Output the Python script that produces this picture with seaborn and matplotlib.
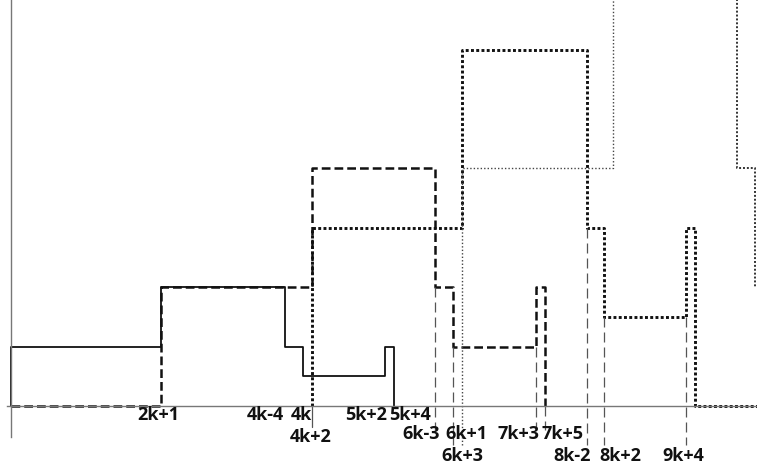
import matplotlib
matplotlib.use('Agg')
import matplotlib.pyplot as plt
import seaborn as sns
import pandas as pd

# breakpoints (x) and levels (y) of each step curve
solid_x = [11, 11, 161, 285, 302.5, 385, 394]
solid_y = [0, 2, 4, 2, 1, 2, 0]

dashed_x = [11, 161, 312, 435, 453, 536, 545]
dashed_y = [0, 4, 8, 4, 2, 4, 0]

dotted_x = [312, 312, 462, 586.5, 604, 686, 695, 757]
dotted_y = [0, 6, 12, 6, 3, 6, 0, 0]

thin_a_x = [462, 462, 613, 613]
thin_a_y = [-1.3, 8, 8, 14]
thin_b_x = [736.5, 736.5, 754.5, 754.5]
thin_b_y = [14, 8, 8, 4]

# drop lines below the axis: x, top, bottom
drop_x = [435, 453, 536, 545, 586.5, 604, 686]
drop_top = [4, 2, 2, 0, 6, 3, 3]
drop_bottom = [-0.8, -1.3, -0.8, -0.8, -1.3, -1.3, -1.3]

tick_labels = ['2k+1', '4k-4', '4k', '4k+2', '5k+2', '5k+4', '6k-3', '6k+1',
               '6k+3', '7k+3', '7k+5', '8k-2', '8k+2', '9k+4']
label_x = [158, 265, 301, 311, 366, 410, 421, 466, 462, 518, 563, 572, 620, 683]
label_y = [-0.3, -0.3, -0.3, -1.04, -0.3, -0.3, -0.93, -0.93, -1.68, -0.93, -0.93, -1.68, -1.68, -1.68]

sns.set_style('white')
plt.rcParams['font.family'] = ['Open Sans', 'DejaVu Sans']

fig = plt.figure(figsize=(7.57, 4.68), dpi=100)
ax = fig.add_axes([0, 0, 1, 1])
ax.set_xlim(0, 757)
ax.set_ylim(-2.09, 13.67)

ink = '#111111'
sns.lineplot(x=solid_x, y=solid_y, sort=False, estimator=None, drawstyle='steps-post',
             color=ink, linewidth=1.3, ax=ax)
sns.lineplot(x=dashed_x, y=dashed_y, sort=False, estimator=None, drawstyle='steps-post',
             color=ink, linewidth=1.8, linestyle=(0, (3.5, 1.6)), ax=ax)
sns.lineplot(x=dotted_x, y=dotted_y, sort=False, estimator=None, drawstyle='steps-post',
             color=ink, linewidth=2.1, linestyle=(0, (1.0, 0.8)), ax=ax)
sns.lineplot(x=thin_a_x, y=thin_a_y, sort=False, estimator=None,
             color='#444444', linewidth=1.0, linestyle=(0, (1, 1.5)), ax=ax)
sns.lineplot(x=thin_b_x, y=thin_b_y, sort=False, estimator=None,
             color='#333333', linewidth=1.4, linestyle=(0, (1, 1)), ax=ax)

for x, top, bottom in zip(drop_x, drop_top, drop_bottom):
    ax.plot([x, x], [top, bottom], color='#555555', linewidth=0.9, linestyle=(0, (8, 4)))
ax.plot([312, 312], [0, -0.7], color='#555555', linewidth=0.9)

# axes
ax.spines[['top', 'right']].set_visible(False)
ax.spines['left'].set_position(('data', 11))
ax.spines['left'].set_bounds(-1.04, 13.67)
ax.spines['bottom'].set_position(('data', 0))
ax.spines['bottom'].set_bounds(7, 757)
for s in ['left', 'bottom']:
    ax.spines[s].set_color('#777777')
    ax.spines[s].set_linewidth(1.0)
ax.set_yticks(range(1, 14))
ax.set_yticklabels([])
ax.tick_params(axis='y', length=2, color='#bbbbbb', direction='out')
ax.set_xticks([])
ax.set_xlabel('')
ax.set_ylabel('')

for lab, x, y in zip(tick_labels, label_x, label_y):
    ax.text(x, y, lab, ha='center', va='center', fontsize=13, fontweight='bold', color='#111111')

fig.savefig('out.png', dpi=100)
